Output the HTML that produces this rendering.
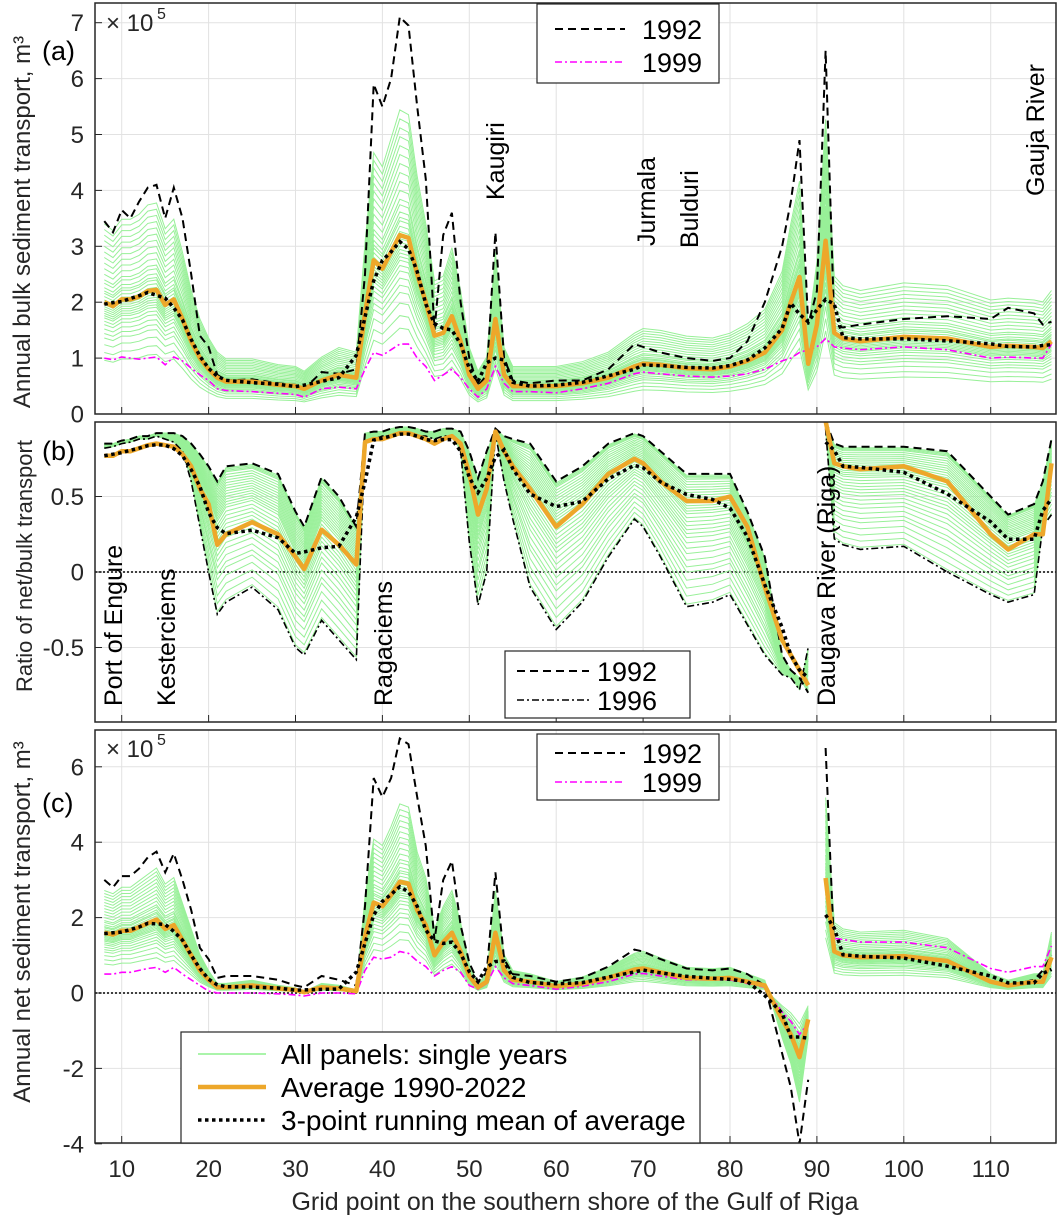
<!DOCTYPE html>
<html><head><meta charset="utf-8"><style>
html,body{margin:0;padding:0;background:#fff;}
svg{display:block;font-family:"Liberation Sans",Arial,sans-serif;}
</style></head><body>
<svg id="fig" width="1058" height="1218" viewBox="0 0 1058 1218" xmlns="http://www.w3.org/2000/svg"></svg>
<script>
const X = [8,9,10,11,12,13,14,15,16,17,18,19,20,21,22,25,28,30,31,33,35,37,38,39,40,41,42,43,44,45,46,47,48,49,50,51,52,53,54,55,57,60,63,66,69,70,72,75,78,80,82,84,86,87,88,89,90,91,92,93,95,100,105,110,112,115,116,117];
const aAvg = [2.0,1.93,2.05,2.05,2.1,2.2,2.22,1.95,2.05,1.7,1.3,1.0,0.8,0.65,0.58,0.58,0.52,0.5,0.45,0.6,0.7,0.65,1.8,2.75,2.6,2.9,3.2,3.15,2.5,2.0,1.4,1.45,1.75,1.3,0.7,0.45,0.6,1.7,0.7,0.5,0.5,0.5,0.55,0.65,0.85,0.9,0.88,0.82,0.8,0.85,0.95,1.1,1.5,2.0,2.45,0.9,1.6,3.1,1.45,1.35,1.3,1.38,1.35,1.2,1.22,1.2,1.18,1.3];
const a1992 = [3.45,3.25,3.65,3.5,3.8,4.05,4.1,3.5,4.05,3.5,2.5,1.4,1.2,0.7,0.6,0.62,0.55,0.52,0.45,0.75,0.72,0.8,2.5,5.9,5.5,6.0,7.1,6.95,5.5,4.2,1.5,3.2,3.6,2.0,1.0,0.5,0.7,3.25,1.0,0.6,0.55,0.6,0.6,0.8,1.25,1.2,1.1,1.0,0.95,1.0,1.3,2.0,3.0,3.8,4.9,1.6,2.2,6.5,1.6,1.55,1.6,1.7,1.75,1.7,1.9,1.8,1.6,1.65];
const a1999 = [1.0,0.97,1.02,1.0,0.98,1.0,1.02,0.88,1.02,0.95,0.82,0.7,0.6,0.45,0.42,0.4,0.37,0.35,0.3,0.45,0.48,0.45,0.8,1.1,1.05,1.15,1.25,1.25,1.0,0.85,0.6,0.7,0.8,0.65,0.45,0.3,0.45,0.85,0.55,0.4,0.4,0.38,0.45,0.55,0.72,0.75,0.72,0.68,0.66,0.68,0.72,0.8,0.95,1.0,1.1,1.15,1.2,1.35,1.2,1.18,1.15,1.2,1.15,1.0,1.02,1.0,1.0,1.25];
const bAvg = [0.77,0.77,0.8,0.8,0.82,0.84,0.85,0.84,0.83,0.78,0.7,0.55,0.45,0.18,0.25,0.33,0.25,0.1,0.02,0.28,0.18,0.05,0.86,0.88,0.88,0.9,0.92,0.92,0.9,0.88,0.85,0.88,0.9,0.85,0.65,0.38,0.55,0.93,0.8,0.7,0.55,0.3,0.45,0.65,0.75,0.72,0.6,0.47,0.47,0.5,0.3,-0.1,-0.45,-0.55,-0.65,-0.75,NaN,1.0,0.72,0.7,0.68,0.7,0.6,0.25,0.15,0.25,0.25,0.72];
const b1992 = [0.85,0.85,0.87,0.88,0.9,0.9,0.92,0.92,0.92,0.9,0.85,0.78,0.7,0.6,0.7,0.72,0.65,0.4,0.3,0.63,0.5,0.3,0.92,0.93,0.93,0.95,0.96,0.96,0.95,0.93,0.93,0.95,0.95,0.93,0.8,0.62,0.8,0.95,0.9,0.88,0.85,0.6,0.7,0.85,0.92,0.9,0.8,0.65,0.65,0.65,0.4,0.1,-0.55,-0.65,-0.7,-0.8,NaN,1.0,0.85,0.83,0.83,0.83,0.8,0.5,0.38,0.45,0.6,0.88];
const b1996 = [0.82,0.83,0.85,0.86,0.88,0.88,0.9,0.88,0.86,0.8,0.6,0.3,0.0,-0.28,-0.2,-0.1,-0.25,-0.5,-0.55,-0.32,-0.45,-0.58,0.85,0.88,0.9,0.9,0.92,0.92,0.9,0.9,0.88,0.9,0.9,0.8,0.2,-0.22,0.0,0.92,0.6,0.35,-0.1,-0.38,-0.2,0.1,0.35,0.3,0.1,-0.23,-0.2,-0.15,-0.35,-0.55,-0.68,-0.7,-0.78,-0.5,NaN,0.95,0.22,0.18,0.15,0.17,0.0,-0.15,-0.2,-0.15,0.3,0.38];
const cAvg = [1.6,1.55,1.65,1.65,1.75,1.85,1.95,1.7,1.8,1.4,1.0,0.6,0.35,0.15,0.15,0.2,0.12,0.08,0.02,0.15,0.12,0.05,1.5,2.4,2.3,2.6,2.95,2.9,2.2,1.8,1.0,1.35,1.6,1.1,0.45,0.15,0.3,1.6,0.6,0.35,0.3,0.18,0.25,0.4,0.62,0.65,0.55,0.4,0.38,0.4,0.3,0.2,-0.7,-1.1,-1.7,-0.7,NaN,3.05,1.1,1.0,0.95,0.98,0.85,0.3,0.2,0.3,0.3,0.95];
const c1992 = [3.0,2.8,3.1,3.1,3.3,3.6,3.75,3.2,3.7,3.0,2.2,1.2,0.9,0.4,0.45,0.45,0.35,0.2,0.15,0.45,0.35,0.2,2.3,5.7,5.2,5.7,6.75,6.6,5.2,3.9,1.4,3.0,3.5,1.8,0.8,0.3,0.55,3.2,0.9,0.5,0.45,0.3,0.4,0.7,1.15,1.1,0.9,0.65,0.6,0.65,0.5,0.2,-1.6,-2.5,-4.0,-2.3,NaN,6.5,1.05,1.0,0.95,1.0,0.85,0.3,0.2,0.35,0.6,1.0];
const c1999 = [0.5,0.5,0.55,0.55,0.6,0.65,0.68,0.55,0.68,0.5,0.35,0.2,0.05,0.0,0.0,0.0,-0.02,-0.05,-0.08,0.0,0.0,-0.02,0.6,0.95,0.9,0.95,1.1,1.05,0.85,0.7,0.45,0.6,0.7,0.55,0.2,0.1,0.25,0.7,0.4,0.25,0.2,0.1,0.18,0.3,0.5,0.52,0.45,0.35,0.35,0.35,0.25,0.15,-0.5,-0.75,-1.1,-0.8,NaN,3.0,1.45,1.42,1.35,1.35,1.2,0.65,0.55,0.7,0.7,1.25];
// per-year factors for single-year curves (1990-2022)
const yearScale = [0.48,0.55,0.62,0.68,0.72,0.76,0.8,0.83,0.86,0.88,0.9,0.92,0.94,0.96,0.98,1.0,1.02,1.05,1.08,1.1,1.13,1.17,1.2,1.25,1.3,1.35,1.4,1.45,1.5,1.55,1.6,1.65,1.7];
const yearFrac = [0.02,0.08,0.14,0.2,0.26,0.3,0.35,0.4,0.44,0.48,0.52,0.55,0.58,0.61,0.64,0.67,0.7,0.72,0.74,0.76,0.78,0.8,0.82,0.84,0.86,0.88,0.9,0.92,0.94,0.96,0.97,0.98,0.99];

const NS="http://www.w3.org/2000/svg";
const svg=document.getElementById('fig');
function mk(tag,attrs,parent){const e=document.createElementNS(NS,tag);for(const k in attrs)e.setAttribute(k,attrs[k]);(parent||svg).appendChild(e);return e;}
const L=95,R=1056;
const xs=v=>121.7+(v-10)*8.69;
const panels={
 a:{top:3,bot:414,y0:414,k:55.9},
 b:{top:422,bot:722,y0:572,k:151},
 c:{top:730,bot:1143,y0:993,k:37.7}
};
function ysOf(p){return v=>p.y0-v*p.k;}
function pathD(xv,yv,ys){let d='',pen=false;for(let i=0;i<xv.length;i++){const v=yv[i];if(v===null||isNaN(v)){pen=false;continue;}d+=(pen?'L':'M')+xs(xv[i]).toFixed(1)+','+ys(v).toFixed(1);pen=true;}return d;}
function runMean(a){return a.map((v,i)=>{if(isNaN(v))return NaN;let s=0,n=0;for(let j=i-1;j<=i+1;j++){if(j>=0&&j<a.length&&!isNaN(a[j])){s+=a[j];n++;}}return s/n;});}

function drawPanel(id,p,yticks,ylabels,series){
  const ys=ysOf(p);
  const g=mk('g',{});
  
  
  const cp=mk('clipPath',{id:'clip'+id},g);
  mk('rect',{x:L,y:p.top,width:R-L,height:p.bot-p.top},cp);
  for(let t=10;t<=110;t+=10){const l=mk('line',{x1:xs(t),x2:xs(t),y1:p.top,y2:p.bot,stroke:'#e2e2e2','stroke-width':1},g);
    }
  yticks.forEach((t,i)=>{const y=ys(t);const l=mk('line',{x1:L,x2:R,y1:y,y2:y,stroke:'#e2e2e2','stroke-width':1},g);
    
    const tx=mk('text',{x:L-11,y:y+8.5,'text-anchor':'end','font-size':24,fill:'#262626'},g);tx.textContent=ylabels[i];
    
    mk('line',{x1:L,x2:L+7,y1:y,y2:y,stroke:'#262626'},g);});
  for(let t=10;t<=110;t+=10){mk('line',{x1:xs(t),x2:xs(t),y1:p.bot,y2:p.bot-7,stroke:'#262626'},g);}
  const pg=mk('g',{'clip-path':'url(#clip'+id+')'},g);
  series(pg,ys);
  const fr=mk('rect',{x:L,y:p.top,width:R-L,height:p.bot-p.top,fill:'none',stroke:'#262626','stroke-width':1.5},g);
  
  return g;
}
function line(pg,d,attrs,name){const e=mk('path',Object.assign({d:d,fill:'none'},attrs),pg);return e;}

function standard(avg,s92,s2,label2,dash2,col2,mode){
  return (pg,ys)=>{
    for(let k=0;k<yearScale.length;k++){
      let yv;
      if(mode==='scale') yv=avg.map(v=>v*yearScale[k]);
      else yv=s2.map((lo,i)=>lo+yearFrac[k]*(s92[i]-lo));
      const e=line(pg,pathD(X,yv,ys),{stroke:'#98f098','stroke-width':1},'single-year-line');
      
    }
    line(pg,pathD(X,s92,ys),{stroke:'#000','stroke-width':2,'stroke-dasharray':'8,5'},'line-1992');
    line(pg,pathD(X,s2,ys),{stroke:col2,'stroke-width':1.6,'stroke-dasharray':dash2},'line-'+label2);
    line(pg,pathD(X,avg,ys),{stroke:'#EDA72A','stroke-width':4.5,'stroke-linejoin':'round'},'average-line');
    line(pg,pathD(X,runMean(avg),ys),{stroke:'#000','stroke-width':3.5,'stroke-dasharray':'3.5,3.5'},'running-mean-line');
  };
}

drawPanel('a',panels.a,[0,1,2,3,4,5,6,7],['0','1','2','3','4','5','6','7'],standard(aAvg,a1992,a1999,'1999','7,3,2,3','#ff00ff','scale'));
drawPanel('b',panels.b,[-0.5,0,0.5],['-0.5','0','0.5'],(pg,ys)=>{
  mk('line',{x1:L,x2:R,y1:ys(0),y2:ys(0),stroke:'#000','stroke-width':1.5,'stroke-dasharray':'2,2'},pg);
  standard(bAvg,b1992,b1996,'1996','7,3,2,3','#000','frac')(pg,ys);
});
drawPanel('c',panels.c,[-4,-2,0,2,4,6],['-4','-2','0','2','4','6'],(pg,ys)=>{
  mk('line',{x1:L,x2:R,y1:ys(0),y2:ys(0),stroke:'#000','stroke-width':1.5,'stroke-dasharray':'2,2'},pg);
  standard(cAvg,c1992,c1999,'1999','7,3,2,3','#ff00ff','scale')(pg,ys);
});

for(let t=10;t<=110;t+=10){const tx=mk('text',{x:xs(t),y:1177,'text-anchor':'middle','font-size':24,fill:'#262626'});tx.textContent=t;
  }
function txt(s,x,y,size,attrs,name){const t=mk('text',Object.assign({x:x,y:y,'font-size':size,fill:'#000'},attrs||{}));t.textContent=s;return t;}
txt('Grid point on the southern shore of the Gulf of Riga',575,1210,25,{'text-anchor':'middle',fill:'#262626'},'x-axis-title');
txt('Annual bulk sediment transport, m³',30,222,24,{'text-anchor':'middle',transform:'rotate(-90 30 222)',fill:'#262626'},'y-axis-title-a');
txt('Ratio of net/bulk transport',32,566,22,{'text-anchor':'middle',transform:'rotate(-90 32 566)',fill:'#262626'},'y-axis-title-b');
txt('Annual net sediment transport, m³',30,922,24,{'text-anchor':'middle',transform:'rotate(-90 30 922)',fill:'#262626'},'y-axis-title-c');
txt('(a)',42,60,27,{},'panel-label-a');
txt('(b)',42,460,27,{},'panel-label-b');
txt('(c)',42,812,27,{},'panel-label-c');
txt('× 10',106,31,24,{fill:'#262626'},'exponent-a');txt('5',157,19,16,{fill:'#262626'},'exponent-a-power');
txt('× 10',106,757,24,{fill:'#262626'},'exponent-c');txt('5',157,745,16,{fill:'#262626'},'exponent-c-power');
function vtxt(s,x,yb,name){return txt(s,x,yb,25,{transform:'rotate(-90 '+x+' '+yb+')'},name);}
vtxt('Kaugiri',504,200,'label-kaugiri');
vtxt('Jurmala',655,246,'label-jurmala');
vtxt('Bulduri',698,248,'label-bulduri');
vtxt('Gauja River',1044,196,'label-gauja-river');
vtxt('Port of Engure',122,706,'label-port-of-engure');
vtxt('Kesterciems',175,706,'label-kesterciems');
vtxt('Ragaciems',392,706,'label-ragaciems');
vtxt('Daugava River (Riga)',835,706,'label-daugava-river');

function legend(x,y,w,h,items,name){
  const g=mk('g',{});
  mk('rect',{x:x,y:y,width:w,height:h,fill:'#fff',stroke:'#262626','stroke-width':1.2},g);
  items.forEach((it,i)=>{const cy=y+it.dy;
    const l=mk('line',Object.assign({x1:x+it.x0,x2:x+it.x0+it.len,y1:cy,y2:cy},it.attrs),g);
    
    const t=mk('text',{x:x+it.tx,y:cy+10,'font-size':it.fs||27,fill:'#000'},g);t.textContent=it.label;
    });
}
const d92={stroke:'#000','stroke-width':2,'stroke-dasharray':'8,5'};
const d99={stroke:'#ff00ff','stroke-width':1.6,'stroke-dasharray':'7,3,2,3'};
const d96={stroke:'#000','stroke-width':1.6,'stroke-dasharray':'7,3,2,3'};
legend(537,4,182,79,[{dy:25,x0:18,len:70,tx:105,label:'1992',attrs:d92},{dy:58,x0:18,len:70,tx:105,label:'1999',attrs:d99}],'legend-a');
legend(505,651,185,67,[{dy:20,x0:12,len:72,tx:92,label:'1992',attrs:d92},{dy:49,x0:12,len:72,tx:92,label:'1996',attrs:d96}],'legend-b');
legend(537,734,182,66,[{dy:19,x0:18,len:70,tx:105,label:'1992',attrs:d92},{dy:48,x0:18,len:70,tx:105,label:'1999',attrs:d99}],'legend-c');
legend(181,1032,519,111,[
 {dy:22,x0:17,len:68,tx:100,fs:28,label:'All panels: single years',attrs:{stroke:'#8ef08e','stroke-width':1.5}},
 {dy:55,x0:17,len:68,tx:100,fs:28,label:'Average 1990-2022',attrs:{stroke:'#EDA72A','stroke-width':4.5}},
 {dy:88,x0:17,len:68,tx:100,fs:28,label:'3-point running mean of average',attrs:{stroke:'#000','stroke-width':3.5,'stroke-dasharray':'3.5,3.5'}}],'legend-main');
</script>
</body></html>
